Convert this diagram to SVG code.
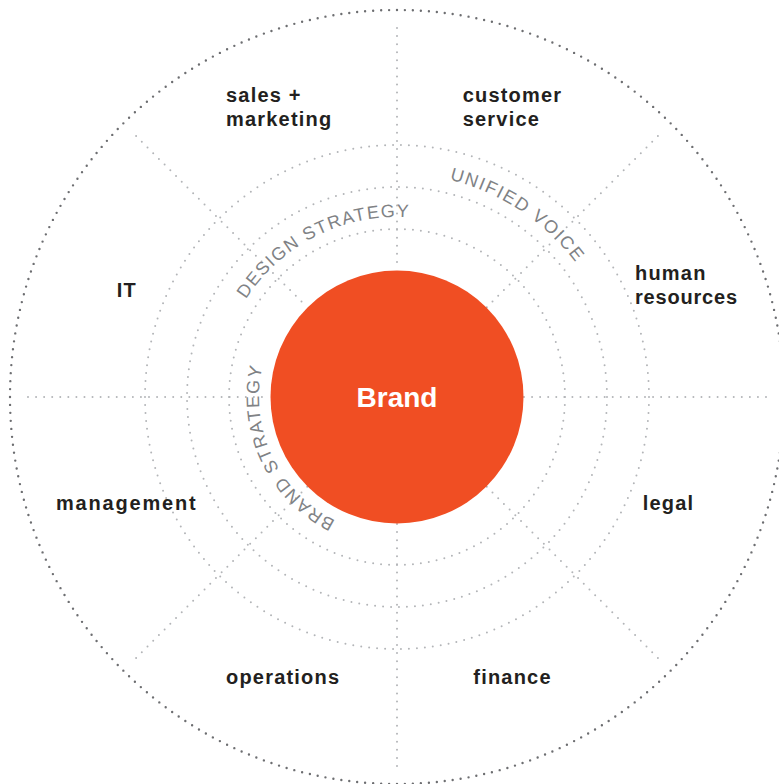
<svg xmlns="http://www.w3.org/2000/svg" width="779" height="784" viewBox="0 0 779 784">
<style>
.bg{fill:#ffffff}
.ring{fill:none;stroke:#b3b5b8;stroke-width:2;stroke-linecap:round;stroke-dasharray:0 1}
.outer{fill:none;stroke:#6d6e71;stroke-width:2.4;stroke-linecap:round;stroke-dasharray:0 1}
.spoke{fill:none;stroke:#b3b5b8;stroke-width:2;stroke-linecap:round;stroke-dasharray:0 1}
.lbl{font-family:"Liberation Sans",Arial,sans-serif;font-weight:bold;font-size:20px;fill:#231f20}
.arc{font-family:"Liberation Sans",Arial,sans-serif;font-size:18px;fill:#808285}
.brand{fill:#f04e23}
.brandtxt{font-family:"Liberation Sans",Arial,sans-serif;font-weight:bold;font-size:28px;fill:#ffffff}
</style>
<defs>
<path id="pDesign" d="M 217 397 A 180 180 0 0 1 577 397"/>
<path id="pUnified" d="M 173.5 397 A 223.5 223.5 0 0 1 620.5 397"/>
<path id="pBrand" d="M 397 535 A 138 138 0 0 1 397 259"/>
</defs>
<rect class="bg" x="0" y="0" width="779" height="784"/>
<g id="rings">
<circle class="outer" cx="397" cy="397" r="387" pathLength="304"/>
<circle class="ring" cx="397" cy="397" r="252" pathLength="198"/>
<circle class="ring" cx="397" cy="397" r="210" pathLength="165"/>
<circle class="ring" cx="397" cy="397" r="168" pathLength="132"/>
</g>
<g id="connectors">
<path class="spoke" pathLength="30" d="M 397 28 L 397 270"/>
<path class="spoke" pathLength="30" d="M 397 766 L 397 524"/>
<path class="spoke" pathLength="30" d="M 28 397 L 270 397"/>
<path class="spoke" pathLength="30" d="M 766 397 L 524 397"/>
<path class="spoke" pathLength="30" d="M 136.1 136.1 L 307.2 307.2"/>
<path class="spoke" pathLength="30" d="M 657.9 136.1 L 486.8 307.2"/>
<path class="spoke" pathLength="30" d="M 136.1 657.9 L 307.2 486.8"/>
<path class="spoke" pathLength="30" d="M 657.9 657.9 L 486.8 486.8"/>
</g>
<g id="ring-labels">
<text class="arc" id="design-strategy" letter-spacing="1.5"><textPath href="#pDesign" startOffset="199.5" text-anchor="middle">DESIGN STRATEGY</textPath></text>
<text class="arc" id="unified-voice" letter-spacing="1.7"><textPath href="#pUnified" startOffset="481.4" text-anchor="middle">UNIFIED VOICE</textPath></text>
<text class="arc" id="brand-strategy" letter-spacing="1.5"><textPath href="#pBrand" startOffset="156" text-anchor="middle">BRAND STRATEGY</textPath></text>
</g>
<g id="brand">
<circle class="brand" cx="397" cy="397" r="126.5"/>
<text class="brandtxt" x="397" y="407" text-anchor="middle">Brand</text>
</g>
<g id="sales-marketing"><text class="lbl" x="226" y="102" letter-spacing="1.2">sales +</text><text class="lbl" x="226" y="126" letter-spacing="1.2">marketing</text></g>
<g id="customer-service"><text class="lbl" x="462.7" y="102" letter-spacing="1.2">customer</text><text class="lbl" x="462.7" y="126" letter-spacing="1.2">service</text></g>
<g id="human-resources"><text class="lbl" x="635" y="280" letter-spacing="1.2">human</text><text class="lbl" x="635" y="303.5" letter-spacing="0.8">resources</text></g>
<g id="it"><text class="lbl" x="116.7" y="297" letter-spacing="1.2">IT</text></g>
<g id="management"><text class="lbl" x="56" y="510" letter-spacing="1.8">management</text></g>
<g id="legal"><text class="lbl" x="642.7" y="510" letter-spacing="1.2">legal</text></g>
<g id="operations"><text class="lbl" x="226" y="684" letter-spacing="1.2">operations</text></g>
<g id="finance"><text class="lbl" x="473.3" y="683.5" letter-spacing="1.2">finance</text></g>
</svg>
